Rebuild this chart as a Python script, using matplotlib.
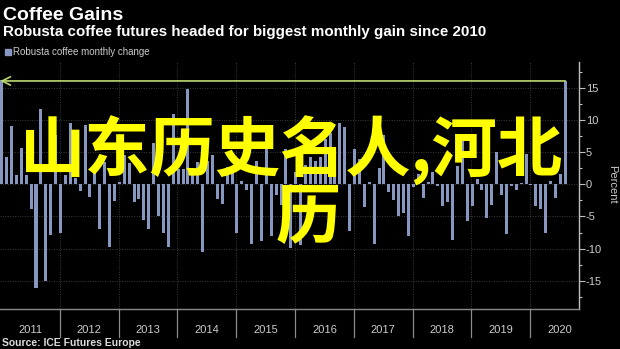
import matplotlib
matplotlib.use("Agg")
import matplotlib.pyplot as plt
import numpy as np
from matplotlib.patches import Rectangle
from matplotlib.ticker import MultipleLocator
from matplotlib.transforms import blended_transform_factory

# ---------------- data ----------------
title = "Coffee Gains"
subtitle = "Robusta coffee futures headed for biggest monthly gain since 2010"
series_name = "Robusta coffee monthly change"
source = "Source: ICE Futures Europe"
overlay_line1 = "山东历史名人,河北"
overlay_line2 = "历"
y_label = "Percent"

years = [2011, 2012, 2013, 2014, 2015, 2016, 2017, 2018, 2019, 2020]
y_ticks = [-15, -10, -5, 0, 5, 10, 15]

# monthly % change, Jan 2011 .. Aug 2020
monthly_change = [
    16.2, 4.2, 9.1, 1.4, 5.7, 1.5, -3.9, -16.2, 11.7, -15.1, -7.9, 7.7,
    -7.6, 1.5, 9.6, 1.0, -1.1, 9.3, -2.0, 3.0, -7.0, 3.5, -9.7, -2.6,
    0.4, 4.6, 3.3, -2.7, -2.2, -5.5, -7.0, 6.4, -4.9, -7.6, -9.7, 11.0,
    2.4, 2.4, 14.8, 2.6, 3.5, -10.6, 3.7, 4.5, -2.2, -3.0, 2.7, 2.8,
    -7.5, 0.5, -0.9, -9.3, 3.7, -8.8, 9.3, -8.0, -1.7, -3.2, 5.5, -9.9,
    2.0, -9.4, 3.0, 4.2, 3.7, 4.2, 7.0, 8.0, 4.0, 9.6, 9.0, -7.2,
    5.5, 4.0, -3.5, 0.4, -9.3, 2.6, 7.7, -1.2, -2.5, -4.9, -4.5, -8.0,
    -0.4, 1.6, -2.1, 0.3, 1.9, -0.2, -3.4, -2.7, -8.7, 2.9, 7.7, -5.7,
    -3.4, 0.9, -0.8, -5.2, -3.2, 5.0, -1.7, -7.7, -0.3, -0.9, 0.2, 4.7,
    -0.1, -3.4, -3.8, -7.5, 0.6, -2.1, 1.6, 16.1,
]

# ---------------- style ----------------
BG = "black"
BAR = "#8797bf"
GRID = "#3c3c3c"
AXIS = "#bfbfbf"
TXT = "#cccccc"
GREEN = "#bcd96e"
YELLOW = "#ffff00"
LAT = "Liberation Sans"

fig = plt.figure(figsize=(6.2, 3.49), dpi=100, facecolor=BG)
ax = fig.add_axes([0.0, 1 - 309 / 349, 579 / 620, (309 - 62) / 349])
ax.set_facecolor(BG)

x = np.arange(len(monthly_change))
ax.bar(x, monthly_change, width=0.62, color=BAR, zorder=2)

ax.set_xlim(-0.35, 117.8)
ax.set_ylim(-19.4, 19.05)

# spines
for s in ("top", "left"):
    ax.spines[s].set_visible(False)
ax.spines["right"].set_color(AXIS)
ax.spines["right"].set_linewidth(1.0)
ax.spines["bottom"].set_color("#8a8a8a")
ax.spines["bottom"].set_linewidth(1.0)

# y axis on right
ax.yaxis.tick_right()
ax.set_yticks(y_ticks)
ax.set_yticklabels([str(v) for v in y_ticks])
ax.yaxis.set_minor_locator(MultipleLocator(2.5))
ax.tick_params(axis="y", which="major", length=4, width=0.8, color=AXIS,
               labelcolor=TXT, labelsize=8, pad=1)
ax.tick_params(axis="y", which="minor", length=2.5, width=0.8, color=AXIS)
for lab in ax.get_yticklabels():
    lab.set_fontfamily(LAT)
ax.set_xticks([])

# horizontal grid
for v in y_ticks:
    ax.axhline(v, color=GRID, lw=0.7, ls=(0, (1, 1.5)), zorder=1)

# year boundaries and labels
tb = blended_transform_factory(ax.transData, ax.transAxes)
for k, yr in enumerate(years):
    b = 12 * k - 0.15
    if k > 0:
        ax.axvline(b, color=GRID, lw=0.7, ls=(0, (1, 1.5)), zorder=1)
        ax.plot([b, b], [0, -0.115], transform=tb, clip_on=False,
                color="#8a8a8a", lw=0.9)
    ax.text(12 * k + 5.85, -0.085, str(yr), transform=tb, ha="center",
            va="center", color=TXT, fontsize=8, family=LAT)

# highlight line with arrow (from latest bar back to first bar level)
level = monthly_change[-1]
ax.annotate("", xy=(x[0] - 0.3, level), xytext=(x[-1], level),
            arrowprops=dict(arrowstyle="->,head_length=0.6,head_width=0.3",
                            color=GREEN, lw=1.2, shrinkA=0, shrinkB=0),
            zorder=3, annotation_clip=False)

# y label
fig.text(612 / 620, 1 - 184 / 349, y_label, rotation=270, ha="center",
         va="center", color=TXT, fontsize=8, family=LAT)

# titles
fig.text(3 / 620, 1 - 20 / 349, title, color="white", fontsize=14,
         fontweight="bold", family=LAT, va="baseline")
fig.text(3 / 620, 1 - 36 / 349, subtitle, color="white", fontsize=10.9,
         fontweight="bold", family=LAT, va="baseline")

# legend
fig.patches.append(Rectangle((5 / 620, 1 - 55 / 349), 6 / 620, 6 / 349,
                             transform=fig.transFigure, color=BAR))
fig.text(13 / 620, 1 - 52 / 349, series_name, color=TXT, fontsize=7,
         family=LAT, va="center")

# source
fig.text(2 / 620, 1 - 343 / 349, source, color="#dddddd", fontsize=7.5,
         fontweight="bold", family=LAT, va="center")

# overlay text
cjk = ["Noto Sans CJK SC", "DejaVu Sans"]
fig.text(292 / 620, 1 - 151 / 349, overlay_line1, ha="center", va="center",
         color=YELLOW, fontsize=47, fontweight="bold", family=cjk, zorder=10)
fig.text(308 / 620, 1 - 218 / 349, overlay_line2, ha="center", va="center",
         color=YELLOW, fontsize=47, fontweight="bold", family=cjk, zorder=10)

fig.savefig("out.png", dpi=100, facecolor=BG)
